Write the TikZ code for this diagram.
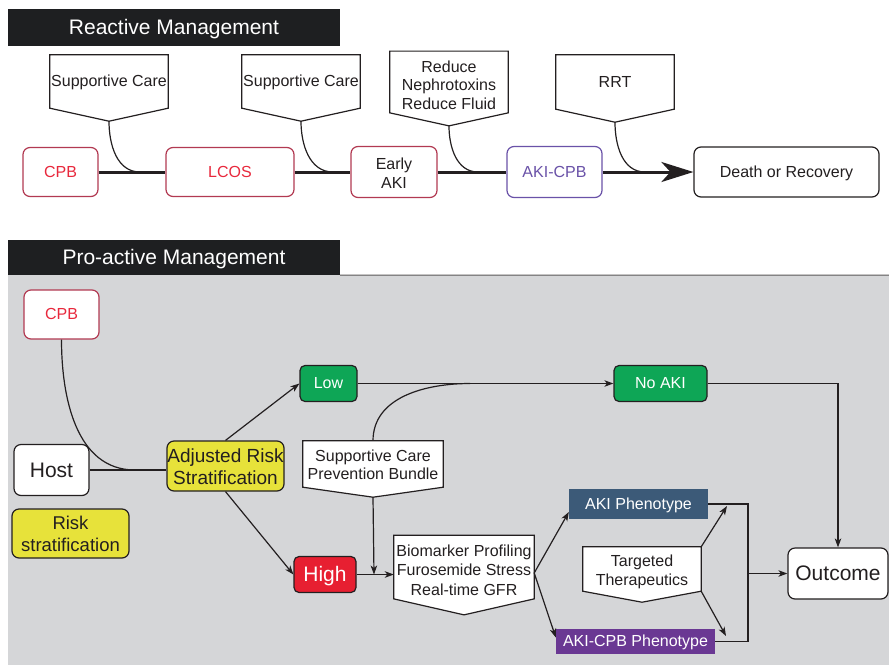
\documentclass[tikz,border=0pt]{standalone}
\usepackage{fontspec}
\setmainfont{Liberation Sans}
\usetikzlibrary{arrows.meta,calc}
\definecolor{headblack}{HTML}{1E1F21}
\definecolor{panelgray}{HTML}{D5D6D8}
\definecolor{cpbred}{HTML}{E8283C}
\definecolor{cpbedge}{HTML}{B23A52}
\definecolor{akipurple}{HTML}{6A52A8}
\definecolor{lowgreen}{HTML}{0EA656}
\definecolor{riskyellow}{HTML}{E7E23A}
\definecolor{highred}{HTML}{E71F31}
\definecolor{phenblue}{HTML}{3C5A78}
\definecolor{phenpurple}{HTML}{6A3893}
\definecolor{ink}{HTML}{231F20}
\pgfdeclarelayer{back}
\pgfdeclarelayer{flags}
\pgfsetlayers{back,flags,main}
% raise the first line of a multi-line label
\newcommand\lift[1]{\rule{0pt}{#1em}}

\begin{document}
\begin{tikzpicture}[x=1pt,y=-1pt,
    every node/.style={font=\fontsize{16}{18.5}\selectfont,text=ink,align=center,inner sep=0pt,
        execute at begin node={\rule{0pt}{0.9em}},execute at end node={\rule[-0.22em]{0pt}{0.22em}}},
    head/.style={fill=headblack,text=white,font=\fontsize{21}{25}\selectfont,minimum width=332},
    box/.style={draw=ink,line width=1.2pt,rounded corners=7pt,fill=white},
    redbox/.style={box,draw=cpbedge},
    big/.style={font=\fontsize{21}{25}\selectfont},
    flag/.style={inner sep=0pt},
    conn/.style={line width=1.2pt,draw=ink},
    >={Stealth[length=9pt,width=6.5pt,inset=2.5pt]}]
    \useasboundingbox (0,0) rectangle (889,665);
    \begin{pgfonlayer}{back}
        \fill[panelgray] (8,275) rectangle (889,665);
    \end{pgfonlayer}

    % reactive management
    \node[head,minimum height=37] at (174,27.5) (head1) {Reactive Management};
    \node[flag,minimum width=118,minimum height=53] at (109,81.5) (sc1) {Supportive Care};
    \node[flag,minimum width=118,minimum height=53] at (301,81.5) (sc2) {Supportive Care};
    \node[flag,minimum width=118,minimum height=54] at (449,82) (red) {\lift{1.3}Reduce\\Nephrotoxins\\Reduce Fluid};
    \node[flag,minimum width=118,minimum height=54] at (615,82) (rrt) {RRT};
    \node[redbox,minimum width=75,minimum height=49,text=cpbred] at (60.5,172) (cpb1) {CPB};
    \node[redbox,minimum width=128,minimum height=49,text=cpbred] at (230,172) (lcos) {LCOS};
    \node[redbox,minimum width=86,minimum height=51] at (394,172) (eaki) {\lift{1.1}Early\\AKI};
    \node[box,draw=akipurple,minimum width=95,minimum height=51,text=akipurple] at (554.5,172) (akicpb1) {AKI-CPB};
    \node[box,minimum width=185,minimum height=50] at (786.5,172) (death) {Death or Recovery};
    \draw[line width=3pt,draw=ink] (cpb1) -- (lcos) -- (eaki) -- (akicpb1);
    \draw[line width=3pt,draw=ink,-{Stealth[length=32pt,width=20pt,inset=9pt]}] (akicpb1) -- (death);

    % pro-active management
    \node[head,minimum height=35] at (174,257.5) (head2) {Pro-active Management};
    \draw[line width=1pt,draw=ink!75] (head2.south east) -- (889,275);
    \node[redbox,minimum width=75,minimum height=49,text=cpbred] at (61.5,314.5) (cpb2) {CPB};
    \node[box,big,minimum width=75,minimum height=51] at (51.5,470) (host) {Host};
    \node[box,fill=riskyellow,font=\fontsize{18.5}{22.5}\selectfont,minimum width=117,minimum height=49] at (70.5,533.5) (risk) {\lift{1.0}Risk\\stratification};
    \node[box,fill=riskyellow,font=\fontsize{19}{22}\selectfont,minimum width=117,minimum height=50] at (225.5,466) (adj) {\lift{1.05}Adjusted Risk\\Stratification};
    \node[box,rounded corners=5pt,fill=lowgreen,text=white,minimum width=57,minimum height=36] at (328.5,383.5) (low) {Low};
    \node[box,rounded corners=5pt,fill=lowgreen,text=white,minimum width=93,minimum height=36] at (660.5,383.5) (noaki) {No AKI};
    \node[flag,minimum width=140,minimum height=46] at (373,464) (scpb) {\lift{1.05}Supportive Care\\Prevention Bundle};
    \node[box,big,rounded corners=5pt,fill=highred,text=white,minimum width=62,minimum height=36] at (325,574.5) (high) {High};
    \node[flag,font=\fontsize{16}{19.5}\selectfont,minimum width=140,minimum height=60] at (464,567) (bio) {\lift{1.3}Biomarker Profiling\\Furosemide Stress\\Real-time GFR};
    \node[flag,font=\fontsize{16}{19.5}\selectfont,minimum width=118,minimum height=44] at (642,569) (targ) {\lift{1.1}Targeted\\Therapeutics};
    \node[fill=phenblue,text=white,minimum width=139,minimum height=30] at (638.5,504) (akiph) {AKI Phenotype};
    \node[fill=phenpurple,text=white,minimum width=159,minimum height=25] at (635.5,641.5) (akicpbph) {AKI-CPB Phenotype};
    \node[box,big,minimum width=100,minimum height=51] at (838,573.5) (outcome) {Outcome};

    % pointer boxes
    \begin{pgfonlayer}{flags}
        \foreach \n/\d in {sc1/13,sc2/13,red/13,rrt/13,scpb/10,bio/16,targ/11} {
            \draw[line width=1.2pt,draw=ink,fill=white] (\n.north west) -- (\n.north east) -- (\n.south east)
                -- ([yshift=-\d]\n.south) coordinate (\n tip) -- (\n.south west) -- cycle;
        }
    \end{pgfonlayer}

    % top connectors
    \coordinate (j1) at (140,172);
    \coordinate (j2) at (333,172);
    \coordinate (j3) at (478,172);
    \coordinate (j4) at (645,172);
    \draw[conn] (sc1tip) to[out=-90,in=180] (j1);
    \draw[conn] (sc2tip) to[out=-90,in=180] (j2);
    \draw[conn] (redtip) to[out=-90,in=180] (j3);
    \draw[conn] (rrttip) to[out=-90,in=180] (j4);

    % bottom connectors
    \coordinate (j5) at (135,470);
    \coordinate (j6) at (470,383.5);
    \coordinate (j7) at (374,574.5);
    \coordinate (jr) at (748,573.5);
    \coordinate (bior) at ($(bio.east)+(0,6)$);
    \coordinate (ta) at (727,506);
    \coordinate (tb) at (726,636);
    \draw[conn] (cpb2.south) to[out=-90,in=180] (j5);
    \draw[conn] (host.east) -- (host.east -| adj.west);
    \draw[conn,->] (adj.north) -- (low.west);
    \draw[conn,->] (adj.south) -- (high.west);
    \draw[conn,->] (low.east) -- (noaki.west);
    \draw[conn] (scpb.north) to[out=90,in=180] (j6);
    \draw[conn,->] (noaki.east) -| (outcome.north);
    \draw[conn,->] (scpbtip) -- (j7);
    \draw[conn,->] (high.east) -- (high.east -| bio.west);
    \draw[conn,->] (bior) -- ($(akiph.west)+(0,8)$);
    \draw[conn,->] (bior) -- ($(akicpbph.west)+(0,-4)$);
    \draw[conn] (akiph.east) -| (jr) |- (akicpbph.east);
    \draw[conn,->] (jr) -- (outcome.west);
    \draw[conn,->] (targ.north east) -- (ta);
    \draw[conn,->] (targ.south east) -- (tb);
\end{tikzpicture}
\end{document}
